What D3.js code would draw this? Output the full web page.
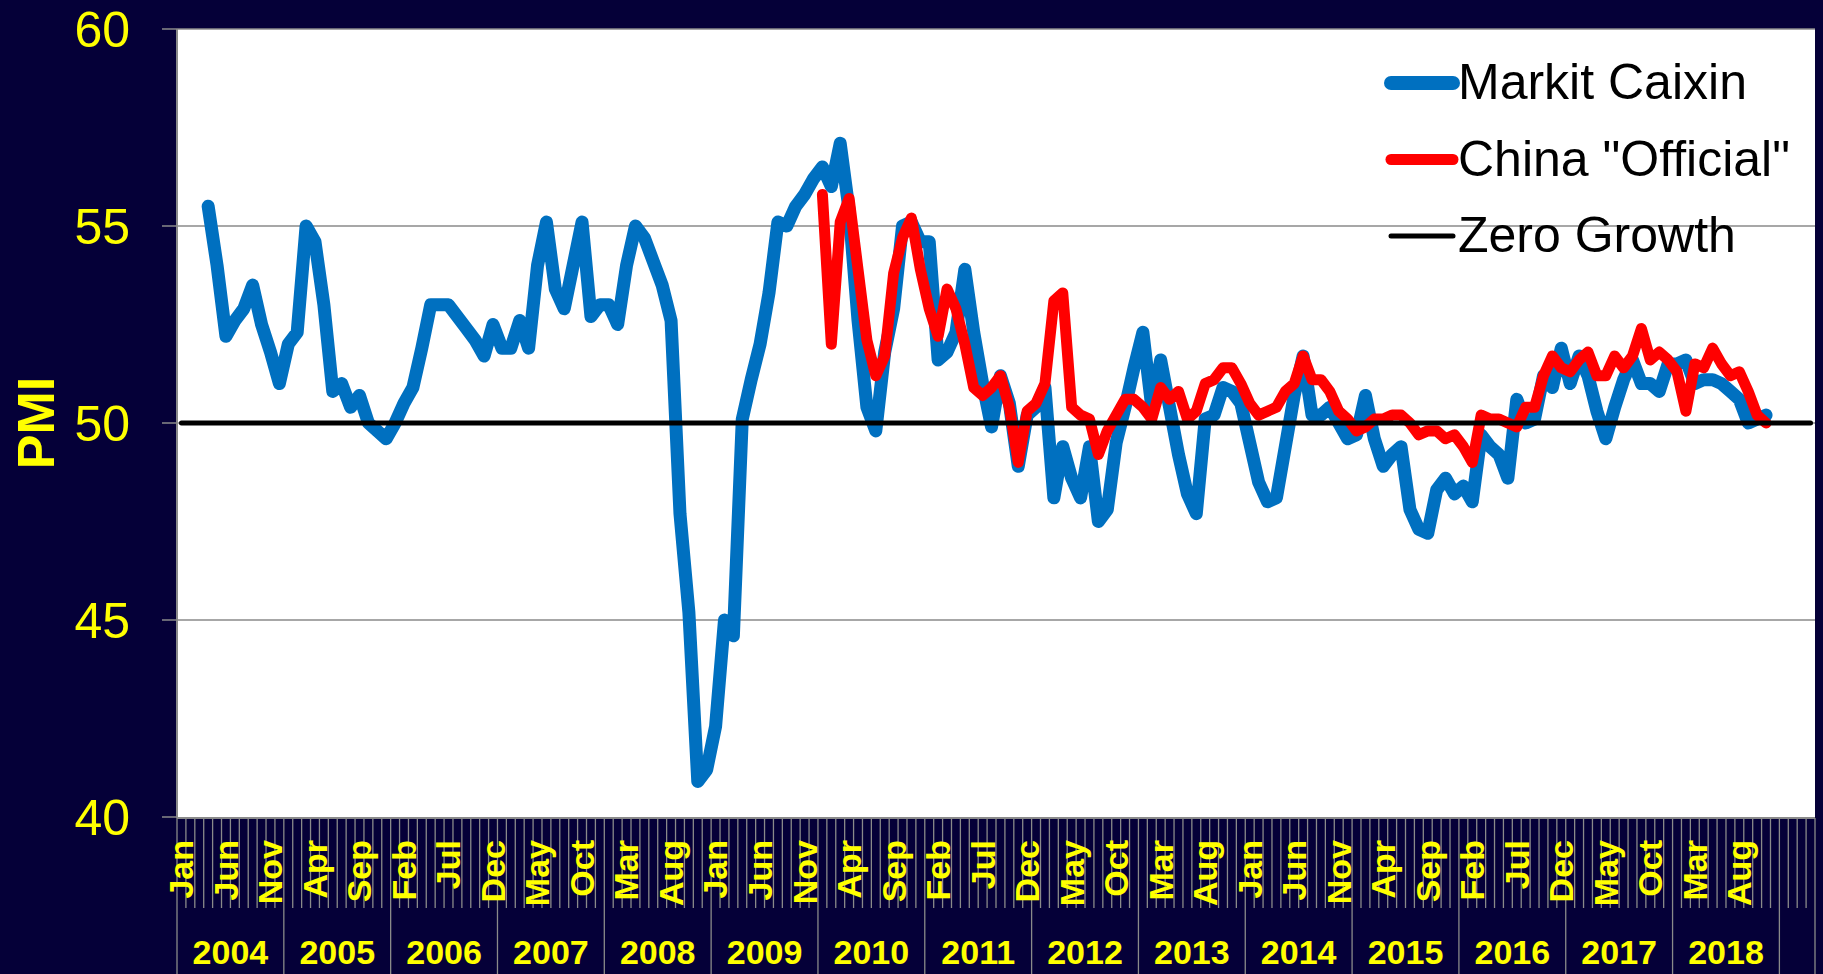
<!DOCTYPE html>
<html>
<head>
<meta charset="utf-8">
<script src="https://cdn.jsdelivr.net/npm/d3@7"></script>
<style>
  body { margin: 0; background: #050038; }
  svg { display: block; font-family: "Liberation Sans", Arial, sans-serif; }
</style>
</head>
<body>
<svg id="chart"></svg>
<script>
// Category axis: Jan 2004 .. Apr 2019, year label under each 12 months.
var years = [2004, 2005, 2006, 2007, 2008, 2009, 2010, 2011, 2012, 2013, 2014, 2015, 2016, 2017, 2018, 2019];
var yearLabels = ["2004", "2005", "2006", "2007", "2008", "2009", "2010", "2011", "2012", "2013", "2014", "2015", "2016", "2017", "2018", ""];
var monthNames = ["Jan", "Feb", "Mar", "Apr", "May", "Jun", "Jul", "Aug", "Sep", "Oct", "Nov", "Dec"];
var monthsInLastYear = 4;

// Markit Caixin PMI, first value is Apr 2004.
var caixinStart = 3;
var caixin = [
	55.5, 54.0, 52.2, 52.6, 52.9, 53.5, 52.5, 51.8, 51.0,               // 2004
	52.0, 52.3, 55.0, 54.6, 53.0, 50.8, 51.0, 50.4, 50.7, 50.0, 49.8, 49.6, // 2005
	50.0, 50.5, 50.9, 51.9, 53.0, 53.0, 53.0, 52.7, 52.4, 52.1, 51.7, 52.5, // 2006
	51.9, 51.9, 52.6, 51.9, 54.0, 55.1, 53.4, 52.9, 54.0, 55.1, 52.7, 53.0, // 2007
	53.0, 52.5, 54.0, 55.0, 54.7, 54.1, 53.5, 52.6, 47.7, 45.2, 40.9, 41.2, // 2008
	42.3, 45.0, 44.6, 50.1, 51.1, 52.0, 53.3, 55.1, 55.0, 55.5, 55.8, 56.2, // 2009
	56.5, 56.0, 57.1, 55.4, 52.6, 50.4, 49.8, 51.8, 52.9, 55.0, 55.1, 54.6, // 2010
	54.6, 51.6, 51.8, 52.3, 53.9, 52.3, 51.0, 49.9, 51.2, 50.5, 48.9, 50.2, // 2011
	50.4, 50.9, 48.1, 49.4, 48.6, 48.1, 49.4, 47.5, 47.8, 49.5, 50.4, 51.4, // 2012
	52.3, 50.4, 51.6, 50.4, 49.2, 48.2, 47.7, 50.1, 50.2, 50.9, 50.8, 50.5, // 2013
	49.5, 48.5, 48.0, 48.1, 49.4, 50.7, 51.7, 50.2, 50.2, 50.4, 50.0, 49.6, // 2014
	49.7, 50.7, 49.6, 48.9, 49.2, 49.4, 47.8, 47.3, 47.2, 48.3, 48.6, 48.2, // 2015
	48.4, 48.0, 49.7, 49.4, 49.2, 48.6, 50.6, 50.0, 50.1, 51.2, 50.9, 51.9, // 2016
	51.0, 51.7, 51.2, 50.3, 49.6, 50.4, 51.1, 51.6, 51.0, 51.0, 50.8, 51.5, // 2017
	51.5, 51.6, 51.0, 51.1, 51.1, 51.0, 50.8, 50.6, 50.0, 50.1, 50.2        // 2018
];

// China "Official" (NBS) PMI, first value is Jan 2010.
var officialStart = 72;
var official = [
	55.8, 52.0, 55.1, 55.7, 53.9, 52.1, 51.2, 51.7, 53.8, 54.7, 55.2, 53.9, // 2010
	52.9, 52.2, 53.4, 52.9, 52.0, 50.9, 50.7, 50.9, 51.2, 50.4, 49.0, 50.3, // 2011
	50.5, 51.0, 53.1, 53.3, 50.4, 50.2, 50.1, 49.2, 49.8, 50.2, 50.6, 50.6, // 2012
	50.4, 50.1, 50.9, 50.6, 50.8, 50.1, 50.3, 51.0, 51.1, 51.4, 51.4, 51.0, // 2013
	50.5, 50.2, 50.3, 50.4, 50.8, 51.0, 51.7, 51.1, 51.1, 50.8, 50.3, 50.1, // 2014
	49.8, 49.9, 50.1, 50.1, 50.2, 50.2, 50.0, 49.7, 49.8, 49.8, 49.6, 49.7, // 2015
	49.4, 49.0, 50.2, 50.1, 50.1, 50.0, 49.9, 50.4, 50.4, 51.2, 51.7, 51.4, // 2016
	51.3, 51.6, 51.8, 51.2, 51.2, 51.7, 51.4, 51.7, 52.4, 51.6, 51.8, 51.6, // 2017
	51.3, 50.3, 51.5, 51.4, 51.9, 51.5, 51.2, 51.3, 50.8, 50.2, 50.0        // 2018
];

var zeroGrowth = 50;
var yTicks = [40, 45, 50, 55, 60];

var width = 1823, height = 974;
var plot = { left: 177, right: 1815, top: 29, bottom: 817 };
var yellow = "#ffff00";
var gridGrey = "#8a8a8a";

// month categories; the 2019 months carry no label
var months = [];
years.forEach(function(yr, k) {
	var last = (k === years.length - 1);
	var n = last ? monthsInLastYear : 12;
	for (var m = 0; m < n; m++) {
		months.push({ year: yr, name: last ? "" : monthNames[m], i: months.length });
	}
});

var svg = d3.select("#chart")
		.attr("width", width)
		.attr("height", height);

svg.append("rect")
		.attr("width", width)
		.attr("height", height)
		.attr("fill", "#050038");

var x = d3.scaleBand()
		.domain(d3.range(months.length))
		.range([plot.left, plot.right]);
var bw = x.bandwidth();
function cx(i) { return x(i) + bw / 2; }

var y = d3.scaleLinear()
		.domain([40, 60])
		.range([plot.bottom, plot.top]);

// plot area
svg.append("rect")
		.attr("x", plot.left)
		.attr("y", plot.top)
		.attr("width", plot.right - plot.left)
		.attr("height", plot.bottom - plot.top)
		.attr("fill", "#ffffff");

// horizontal gridlines
svg.append("g").selectAll("line")
		.data(yTicks.slice(1))
		.enter().append("line")
		.attr("x1", plot.left).attr("x2", plot.right)
		.attr("y1", function(d) { return y(d); })
		.attr("y2", function(d) { return y(d); })
		.attr("stroke", gridGrey)
		.attr("stroke-width", 1.5);

// y axis
var yAxis = svg.append("g");
yAxis.append("line")
		.attr("x1", plot.left).attr("x2", plot.left)
		.attr("y1", plot.top).attr("y2", plot.bottom + 1)
		.attr("stroke", gridGrey)
		.attr("stroke-width", 2);
yAxis.selectAll("line.tick")
		.data(yTicks)
		.enter().append("line")
		.attr("class", "tick")
		.attr("x1", plot.left - 15).attr("x2", plot.left)
		.attr("y1", function(d) { return y(d); })
		.attr("y2", function(d) { return y(d); })
		.attr("stroke", gridGrey)
		.attr("stroke-width", 1.5);
yAxis.selectAll("text")
		.data(yTicks)
		.enter().append("text")
		.attr("x", 130)
		.attr("y", function(d) { return y(d); })
		.attr("dy", "0.35em")
		.attr("text-anchor", "end")
		.attr("fill", yellow)
		.style("font-size", "50px")
		.text(function(d) { return d; });

svg.append("text")
		.attr("transform", "translate(54," + y(50) + ") rotate(-90)")
		.attr("text-anchor", "middle")
		.attr("fill", yellow)
		.style("font-size", "52px")
		.style("font-weight", "bold")
		.text("PMI");

// x axis: month ticks, year separators, labels
var xAxis = svg.append("g");
xAxis.append("line")
		.attr("x1", plot.left).attr("x2", plot.right)
		.attr("y1", plot.bottom + 1).attr("y2", plot.bottom + 1)
		.attr("stroke", gridGrey)
		.attr("stroke-width", 2);

var boundaries = d3.range(months.length + 1);
xAxis.selectAll("line.mtick")
		.data(boundaries)
		.enter().append("line")
		.attr("class", "mtick")
		.attr("x1", function(i) { return plot.left + i * bw; })
		.attr("x2", function(i) { return plot.left + i * bw; })
		.attr("y1", plot.bottom + 1)
		.attr("y2", function(i) { return (i % 12 === 0 || i === months.length) ? height : 908; })
		.attr("stroke", gridGrey)
		.attr("stroke-width", 1.3);

xAxis.selectAll("text.month")
		.data(months.filter(function(d) { return d.i % 5 === 0 && d.name; }))
		.enter().append("text")
		.attr("class", "month")
		.attr("transform", function(d) { return "translate(" + cx(d.i) + ",840) rotate(-90)"; })
		.attr("dy", "0.35em")
		.attr("text-anchor", "end")
		.attr("fill", yellow)
		.style("font-size", "34px")
		.style("font-weight", "bold")
		.text(function(d) { return d.name; });

xAxis.selectAll("text.year")
		.data(years)
		.enter().append("text")
		.attr("class", "year")
		.attr("x", function(yr, k) {
			var first = k * 12;
			var n = (k === years.length - 1) ? monthsInLastYear : 12;
			return x(first) + n * bw / 2;
		})
		.attr("y", 964)
		.attr("text-anchor", "middle")
		.attr("fill", yellow)
		.style("font-size", "34px")
		.style("font-weight", "bold")
		.text(function(yr, k) { return yearLabels[k]; });

// series
var line = d3.line()
		.x(function(d) { return cx(d.i); })
		.y(function(d) { return y(d.v); });

var caixinPts = caixin.map(function(v, k) { return { i: caixinStart + k, v: v }; });
var officialPts = official.map(function(v, k) { return { i: officialStart + k, v: v }; });
var zeroPts = [{ i: 0, v: zeroGrowth }, { i: months.length - 1, v: zeroGrowth }];

svg.append("path")
		.datum(caixinPts)
		.attr("d", line)
		.attr("fill", "none")
		.attr("stroke", "#0070c0")
		.attr("stroke-width", 13)
		.attr("stroke-linejoin", "round")
		.attr("stroke-linecap", "round");

svg.append("path")
		.datum(officialPts)
		.attr("d", line)
		.attr("fill", "none")
		.attr("stroke", "#ff0000")
		.attr("stroke-width", 11)
		.attr("stroke-linejoin", "round")
		.attr("stroke-linecap", "round");

svg.append("path")
		.datum(zeroPts)
		.attr("d", line)
		.attr("fill", "none")
		.attr("stroke", "#000000")
		.attr("stroke-width", 5)
		.attr("stroke-linecap", "round");

// legend
var legendItems = [
	{ label: "Markit Caixin", color: "#0070c0", w: 14 },
	{ label: "China \"Official\"", color: "#ff0000", w: 11 },
	{ label: "Zero Growth", color: "#000000", w: 5 }
];
var legend = svg.append("g").selectAll("g")
		.data(legendItems)
		.enter().append("g")
		.attr("transform", function(d, k) { return "translate(0," + (k * 76.5) + ")"; });
legend.append("line")
		.attr("x1", 1391).attr("x2", 1453)
		.attr("y1", 83).attr("y2", 83)
		.attr("stroke", function(d) { return d.color; })
		.attr("stroke-width", function(d) { return d.w; })
		.attr("stroke-linecap", "round");
legend.append("text")
		.attr("x", 1458)
		.attr("y", 99)
		.attr("fill", "#000000")
		.style("font-size", "50px")
		.text(function(d) { return d.label; });
</script>
</body>
</html>
